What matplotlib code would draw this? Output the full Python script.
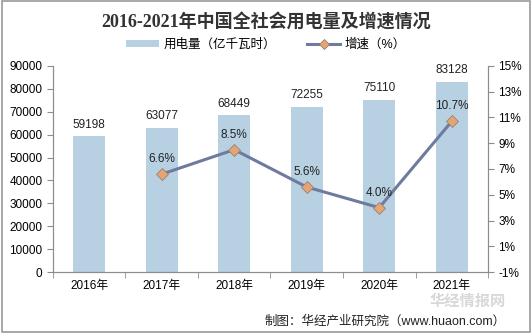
import numpy as np
import matplotlib.pyplot as plt
from matplotlib.lines import Line2D
from matplotlib.patches import Patch, Rectangle

plt.rcParams['font.family'] = ['Liberation Sans', 'Noto Sans CJK SC', 'DejaVu Sans']

years = ['2016年', '2017年', '2018年', '2019年', '2020年', '2021年']
usage = [59198, 63077, 68449, 72255, 75110, 83128]
growth_years = ['2017年', '2018年', '2019年', '2020年', '2021年']
growth = [6.6, 8.5, 5.6, 4.0, 10.7]

bar_color = '#b7d0e2'
line_color = '#6e7b9f'
marker_color = '#e3a574'
axis_color = '#8c8c8c'

fig = plt.figure(figsize=(5.32, 3.33), dpi=100)
ax = fig.add_axes([0.0996, 0.183, 0.8177, 0.619])

# bars: electricity use
x = np.arange(len(years))
ax.bar(x, usage, width=0.44, color=bar_color, zorder=2)
for xi, v in zip(x, usage):
    ax.text(xi, v + 2500, str(v), ha='center', va='bottom', fontsize=8.5, color='#222222')

ax.set_xlim(-0.5, len(years) - 0.5)
ax.set_ylim(0, 90000)
ax.set_yticks(np.arange(0, 90001, 10000))
ax.set_xticks(x)
ax.set_xticklabels(years, fontsize=8.5)
ax.set_xticks(np.arange(-0.5, len(years), 1), minor=True)
ax.tick_params(axis='x', which='major', length=0, pad=6)
ax.tick_params(axis='x', which='minor', length=4, color=axis_color)
ax.tick_params(axis='y', length=4, color=axis_color, labelsize=8.5)
ax.spines['top'].set_visible(False)
for s in ['left', 'bottom', 'right']:
    ax.spines[s].set_color(axis_color)

# line: growth rate
ax2 = ax.twinx()
gx = [years.index(y) for y in growth_years]
ax2.plot(gx, growth, color=line_color, linewidth=2.2, marker='D', markersize=6,
         markerfacecolor=marker_color, markeredgecolor='#9a8070', markeredgewidth=0.6, zorder=3)
for xi, v in zip(gx, growth):
    ax2.text(xi, v + 0.7, f'{v:.1f}%', ha='center', va='bottom', fontsize=8.5, color='#222222')
ax2.set_ylim(-1, 15)
ax2.set_yticks(np.arange(-1, 16, 2))
ax2.set_yticklabels([f'{t}%' for t in range(-1, 16, 2)])
ax2.tick_params(axis='y', length=4, color=axis_color, labelsize=8.5)
ax2.spines['top'].set_visible(False)
for s in ['left', 'bottom', 'right']:
    ax2.spines[s].set_color(axis_color)

fig.text(0.5, 0.935, '2016-2021年中国全社会用电量及增速情况', ha='center', va='center',
         fontsize=13, fontweight='bold', color='#333333',
         family=['Liberation Serif', 'Noto Sans CJK SC'])

handles = [Patch(facecolor=bar_color, edgecolor='none'),
           Line2D([0], [0], color=line_color, linewidth=2.2, marker='D', markersize=5,
                  markerfacecolor=marker_color, markeredgecolor='#9a8070', markeredgewidth=0.6)]
fig.legend(handles, ['用电量（亿千瓦时）', '增速（%）'], loc='center', bbox_to_anchor=(0.5, 0.865),
           ncol=2, frameon=False, fontsize=9, handlelength=2.6, handleheight=0.5,
           columnspacing=2.5, handletextpad=0.4)

# watermark + source
fig.text(0.88, 0.093, '华经情报网', ha='center', va='center', fontsize=11,
         fontweight='bold', color='#c8c8c8', alpha=0.7)
fig.text(0.95, 0.035, '制图：华经产业研究院（www.huaon.com）', ha='right', va='center',
         fontsize=9, color='#222222')

fig.add_artist(Rectangle((0.003, 0.004), 0.994, 0.992, transform=fig.transFigure,
                         fill=False, edgecolor='#9a9a9a', linewidth=1.2))

fig.savefig('out.png', dpi=100)
